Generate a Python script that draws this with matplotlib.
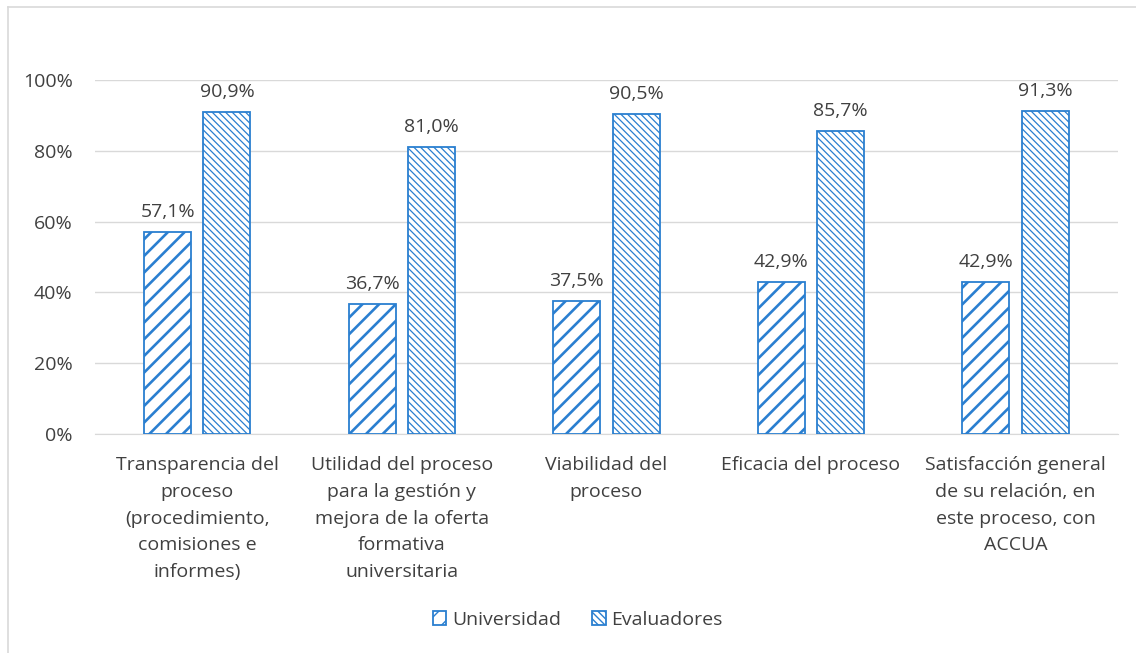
import numpy as np
import matplotlib.pyplot as plt
import matplotlib as mpl
from matplotlib.lines import Line2D

categories = [
    'Transparencia del\nproceso\n(procedimiento,\ncomisiones e\ninformes)',
    'Utilidad del proceso\npara la gestión y\nmejora de la oferta\nformativa\nuniversitaria',
    'Viabilidad del\nproceso',
    'Eficacia del proceso',
    'Satisfacción general\nde su relación, en\neste proceso, con\nACCUA',
]
universidad = [57.1, 36.7, 37.5, 42.9, 42.9]
evaluadores = [90.9, 81.0, 90.5, 85.7, 91.3]
yticks = [0, 20, 40, 60, 80, 100]

blue = '#2A7FD0'
txt = '#404040'
fs = 14
plt.rcParams['font.family'] = ['Open Sans', 'DejaVu Sans']

fig = plt.figure(figsize=(11.36, 6.53), dpi=100)
ax = fig.add_axes([0.0836, 0.3354, 0.9004, 0.5421])

x = np.arange(len(categories))
w = 0.23
off = 0.145

with mpl.rc_context({'hatch.linewidth': 1.9, 'hatch.color': blue}):
    b1 = ax.bar(x - off, universidad, w, facecolor='white', edgecolor=blue,
                linewidth=1.3, hatch='//', label='Universidad', zorder=3)
with mpl.rc_context({'hatch.linewidth': 0.9, 'hatch.color': blue}):
    b2 = ax.bar(x + off, evaluadores, w, facecolor='white', edgecolor=blue,
                linewidth=1.3, hatch='\\\\\\\\\\', label='Evaluadores', zorder=3)

for bars, vals in ((b1, universidad), (b2, evaluadores)):
    for b, v in zip(bars, vals):
        ax.annotate(f'{v:.1f}%'.replace('.', ','), (b.get_x() + b.get_width() / 2, v),
                    xytext=(0, 8), textcoords='offset points', ha='center', va='bottom',
                    fontsize=fs, color=txt)

ax.set_xlim(-0.5, len(categories) - 0.5)
ax.set_ylim(0, 100)
ax.set_yticks(yticks)
ax.set_yticklabels([f'{t}%' for t in yticks], fontsize=fs, color=txt)
ax.set_xticks(x)
ax.set_xticklabels(categories, fontsize=fs, color=txt, linespacing=1.62, va='top')
ax.tick_params(axis='both', length=0)
ax.tick_params(axis='y', pad=16)
ax.tick_params(axis='x', pad=16)
ax.grid(axis='y', color='#D9D9D9', linewidth=1, zorder=0)
for s in ['top', 'right', 'left']:
    ax.spines[s].set_visible(False)
ax.spines['bottom'].set_color('#D9D9D9')

ax.legend(loc='center', bbox_to_anchor=(0.472, -0.525), ncol=2, frameon=False,
          fontsize=fs, handlelength=0.7, handleheight=0.7, handletextpad=0.3,
          columnspacing=1.6, labelcolor=txt)

# border of the chart area
fig.add_artist(Line2D([8 / 1136, 8 / 1136], [0, 1 - 7 / 653], transform=fig.transFigure, color='#D9D9D9', lw=1.2))
fig.add_artist(Line2D([8 / 1136, 1], [1 - 7 / 653, 1 - 7 / 653], transform=fig.transFigure, color='#D9D9D9', lw=1.2))

plt.savefig('out.png', dpi=100)
